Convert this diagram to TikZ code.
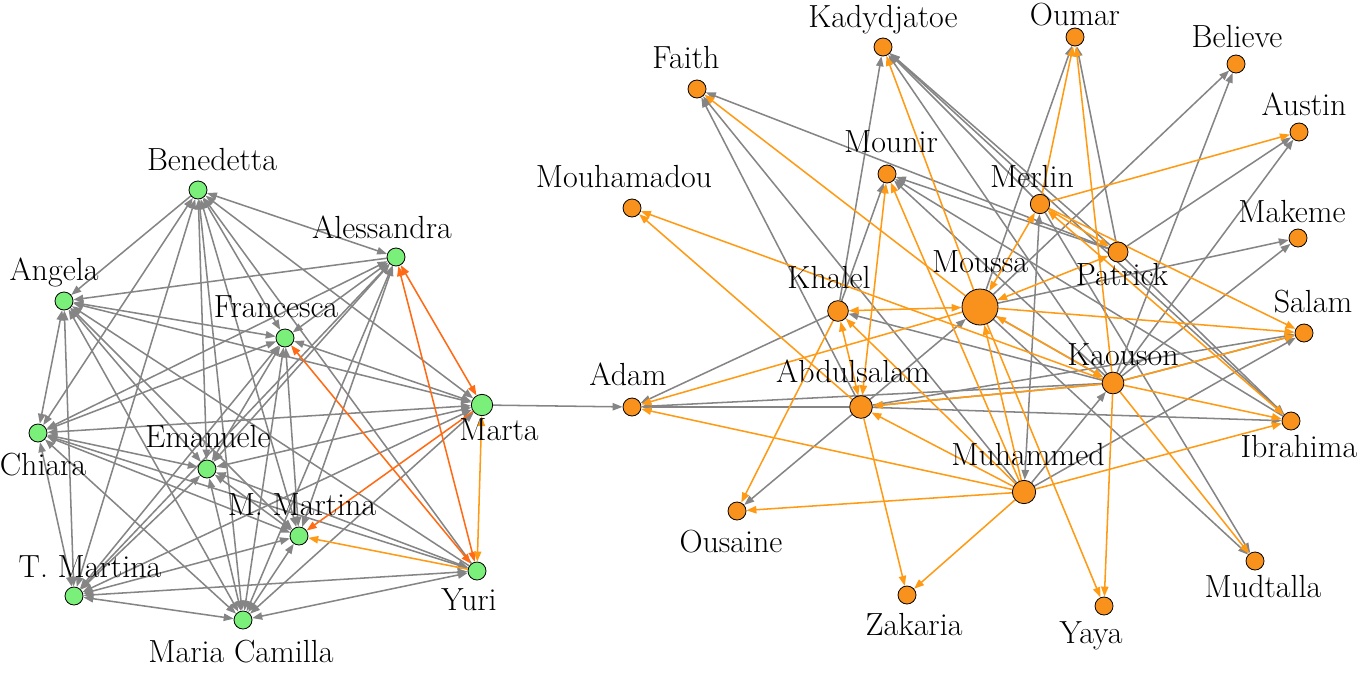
\documentclass[tikz,border=0pt]{standalone}
\usepackage{fontspec}
\setmainfont{Latin Modern Roman}
\usetikzlibrary{arrows.meta}
\pgfdeclarelayer{bg}
\pgfsetlayers{bg,main}
\definecolor{eg}{HTML}{858585}
\definecolor{eo}{HTML}{FF9A14}
\definecolor{er}{HTML}{FF6A14}
\definecolor{nfo}{HTML}{F8921C}
\definecolor{nfg}{HTML}{7AF07A}
\begin{document}
\begin{tikzpicture}[x=0.75pt,y=-0.75pt,
  >={Triangle[length=7.5pt,width=5.5pt]},
  gn/.style={circle,draw=black,line width=0.6pt,fill=nfg,minimum size=13.5pt,inner sep=0pt},
  on/.style={circle,draw=black,line width=0.6pt,fill=nfo,minimum size=13.5pt,inner sep=0pt},
  lab/.style={font=\fontsize{24}{26}\selectfont,anchor=base,inner sep=0pt},
  ge/.style={draw=eg,line width=1.15pt},
  oe/.style={draw=eo,line width=1.15pt},
  re/.style={draw=er,line width=1.15pt}]
\useasboundingbox (0,0) rectangle (1358,678);
% ---------- left cluster nodes
\node[gn] (Be) at (198,190) {};
\node[gn] (Al) at (396,257) {};
\node[gn] (An) at (64,301) {};
\node[gn] (Fr) at (285,338) {};
\node[gn,minimum size=16pt] (Mt) at (482,405) {};
\node[gn] (Ch) at (38,433) {};
\node[gn] (Em) at (207,469) {};
\node[gn] (MM) at (299,536) {};
\node[gn] (TM) at (74,596) {};
\node[gn] (MC) at (243,620) {};
\node[gn] (Yu) at (477,571) {};
% labels
\node[lab] (lBe) at (212,170) {Benedetta};
\node[lab] (lAl) at (382,238) {Alessandra};
\node[lab] (lAn) at (54,280) {Angela};
\node[lab] (lFr) at (276,317) {Francesca};
\node[lab] (lMt) at (499,440) {Marta};
\node[lab] (lCh) at (43,475) {Chiara};
\node[lab] (lEm) at (208,447) {Emanuele};
\node[lab] (lMM) at (302,515) {M. Martina};
\node[lab] (lTM) at (90,577) {T. Martina};
\node[lab] (lMC) at (241,662) {Maria Camilla};
\node[lab] (lYu) at (469,610) {Yuri};
% ---------- right cluster nodes
\node[on] (Fa) at (697,89) {};
\node[on] (Ka) at (883,47) {};
\node[on] (Ou) at (1075,37) {};
\node[on] (Bl) at (1236,64) {};
\node[on] (Au) at (1299,132) {};
\node[on] (Mo) at (887,174) {};
\node[on] (Mh) at (632,208) {};
\node[on,minimum size=14.5pt] (Me) at (1040,204) {};
\node[on] (Mk) at (1298,238) {};
\node[on,minimum size=15pt] (Pa) at (1118,252) {};
\node[on,minimum size=27pt] (Ms) at (980,307) {};
\node[on,minimum size=15.5pt] (Kh) at (838,311) {};
\node[on] (Sa) at (1304,333) {};
\node[on,minimum size=16.3pt] (Kn) at (1113,383) {};
\node[on] (Ad) at (632,407) {};
\node[on,minimum size=17pt] (Ab) at (861,407) {};
\node[on] (Ib) at (1291,421) {};
\node[on,minimum size=17.5pt] (Mu) at (1024,492) {};
\node[on] (Os) at (737,511) {};
\node[on] (Za) at (907,595) {};
\node[on] (Ya) at (1104,606) {};
\node[on] (Md) at (1255,561) {};
% labels
\node[lab] (lFa) at (686,68) {Faith};
\node[lab] (lKa) at (883,27) {Kadydjatoe};
\node[lab] (lOu) at (1075,25) {Oumar};
\node[lab] (lBl) at (1237,47) {Believe};
\node[lab] (lAu) at (1304,115) {Austin};
\node[lab] (lMo) at (891,152) {Mounir};
\node[lab] (lMh) at (624,187) {Mouhamadou};
\node[lab] (lMe) at (1032,187) {Merlin};
\node[lab] (lMk) at (1292,222) {Makeme};
\node[lab] (lPa) at (1122,285) {Patrick};
\node[lab] (lMs) at (980,272) {Moussa};
\node[lab] (lKh) at (829,288) {Khalel};
\node[lab] (lSa) at (1313,312) {Salam};
\node[lab] (lKn) at (1123,365) {Kaouson};
\node[lab] (lAd) at (628,385) {Adam};
\node[lab] (lAb) at (853,382) {Abdulsalam};
\node[lab] (lIb) at (1299,457) {Ibrahima};
\node[lab] (lMu) at (1028,465) {Muhammed};
\node[lab] (lOs) at (731,552) {Ousaine};
\node[lab] (lZa) at (914,635) {Zakaria};
\node[lab] (lYa) at (1091,643) {Yaya};
\node[lab] (lMd) at (1263,597) {Mudtalla};
\begin{pgfonlayer}{bg}
% ---------- left cluster edges (gray)
\draw[ge,<->] (Be) -- (Al);
\draw[ge,->] (Be) -- (An);
\draw[ge,<->] (Be) -- (Fr);
\draw[ge,<->] (Be) -- (Mt);
\draw[ge,<->] (Be) -- (Ch);
\draw[ge,<->] (Be) -- (Em);
\draw[ge,<->] (Be) -- (MM);
\draw[ge,<->] (Be) -- (TM);
\draw[ge,<->] (Be) -- (MC);
\draw[ge,<-] (Be) -- (Yu);
\draw[ge,->] (Al) -- (An);
\draw[ge,<->] (Al) -- (Fr);
\draw[ge,<->] (Al) -- (Ch);
\draw[ge,<->] (Al) -- (Em);
\draw[ge,<->] (Al) -- (MM);
\draw[ge,<->] (Al) -- (TM);
\draw[ge,<->] (Al) -- (MC);
\draw[ge,<->] (An) -- (Fr);
\draw[ge,<->] (An) -- (Mt);
\draw[ge,<->] (An) -- (Ch);
\draw[ge,<->] (An) -- (Em);
\draw[ge,<->] (An) -- (MM);
\draw[ge,<->] (An) -- (TM);
\draw[ge,<->] (An) -- (MC);
\draw[ge,<-] (An) -- (Yu);
\draw[ge,<->] (Fr) -- (Mt);
\draw[ge,<->] (Fr) -- (Ch);
\draw[ge,<->] (Fr) -- (Em);
\draw[ge,<->] (Fr) -- (MM);
\draw[ge,<->] (Fr) -- (TM);
\draw[ge,<->] (Fr) -- (MC);
\draw[ge,<->] (Mt) -- (Ch);
\draw[ge,<->] (Mt) -- (Em);
\draw[ge,<->] (Mt) -- (TM);
\draw[ge,<->] (Mt) -- (MC);
\draw[ge,<->] (Ch) -- (Em);
\draw[ge,<->] (Ch) -- (MM);
\draw[ge,<->] (Ch) -- (TM);
\draw[ge,<->] (Ch) -- (MC);
\draw[ge,<->] (Ch) -- (Yu);
\draw[ge,<->] (Em) -- (MM);
\draw[ge,<->] (Em) -- (TM);
\draw[ge,<->] (Em) -- (MC);
\draw[ge,<->] (Em) -- (Yu);
\draw[ge,<->] (MM) -- (TM);
\draw[ge,<->] (MM) -- (MC);
\draw[ge,<->] (TM) -- (MC);
\draw[ge,<->] (TM) -- (Yu);
\draw[ge,<->] (MC) -- (Yu);
% left cluster edges (orange)
\draw[re,<->] (Al) -- (Mt);
\draw[re,<->] (Al) -- (Yu);
\draw[re,<->] (Fr) -- (Yu);
\draw[re,->] (Mt) -- (MM);
\draw[oe,<->] (Mt) -- (Yu);
\draw[oe,->] (Yu) -- (MM);
% bridge
\draw[ge,->] (Mt) -- (Ad);
% ---------- right cluster edges (gray)
\draw[ge,->] (Pa) -- (Fa);
\draw[ge,->] (Mu) -- (Fa);
\draw[ge,->] (Ab) -- (Fa);
\draw[ge,->] (Kh) -- (Ka);
\draw[ge,->] (Pa) -- (Ka);
\draw[ge,->] (Kn) -- (Ka);
\draw[ge,->] (Ib) -- (Ka);
\draw[ge,->] (Me) -- (Ka);
\draw[ge,->] (Kh) -- (Mo);
\draw[ge,->] (Pa) -- (Mo);
\draw[ge,->] (Kn) -- (Mo);
\draw[ge,->] (Ib) -- (Mo);
\draw[ge,->] (Pa) -- (Ou);
\draw[ge,->] (Ms) -- (Ou);
\draw[ge,->] (Ms) -- (Bl);
\draw[ge,->] (Kn) -- (Bl);
\draw[ge,->] (Pa) -- (Au);
\draw[ge,->] (Kn) -- (Au);
\draw[ge,->] (Ms) -- (Mk);
\draw[ge,->] (Kn) -- (Mk);
\draw[ge,->] (Kn) -- (Sa);
\draw[ge,->] (Ab) -- (Sa);
\draw[ge,->] (Mu) -- (Sa);
\draw[ge,->] (Ab) -- (Ib);
\draw[ge,->] (Pa) -- (Ib);
\draw[ge,->] (Ms) -- (Md);
\draw[ge,->] (Me) -- (Md);
\draw[ge,->] (Kh) -- (Ad);
\draw[ge,->] (Ab) -- (Ad);
\draw[ge,->] (Kn) -- (Ad);
\draw[ge,->] (Ab) -- (Os);
\draw[ge,->] (Ab) -- (Ms);
\draw[ge,->] (Kn) -- (Kh);
\draw[ge,->] (Kn) -- (Ab);
\draw[ge,->] (Ms) -- (Kn);
\draw[ge,->] (Mu) -- (Kn);
\draw[ge,<->] (Me) -- (Mu);
% right cluster edges (orange)
\draw[oe,->] (Ms) -- (Fa);
\draw[oe,->] (Kn) -- (Mh);
\draw[oe,->] (Ab) -- (Mh);
\draw[oe,->] (Ms) -- (Ka);
\draw[oe,->] (Ms) -- (Ya);
\draw[oe,<->] (Ms) -- (Me);
\draw[oe,<->] (Ms) -- (Pa);
\draw[oe,->] (Ms) -- (Sa);
\draw[oe,<->] (Ms) -- (Kh);
\draw[oe,->] (Ms) -- (Ad);
\draw[oe,<->] (Kn) -- (Ms);
\draw[oe,->] (Me) -- (Ou);
\draw[oe,->] (Kn) -- (Ou);
\draw[oe,->] (Me) -- (Au);
\draw[oe,->] (Me) -- (Pa);
\draw[oe,->] (Me) -- (Sa);
\draw[oe,<->] (Me) -- (Ib);
\draw[oe,->] (Mu) -- (Ad);
\draw[oe,->] (Mu) -- (Os);
\draw[oe,->] (Mu) -- (Za);
\draw[oe,->] (Mu) -- (Ab);
\draw[oe,->] (Mu) -- (Ib);
\draw[oe,->] (Mu) -- (Kh);
\draw[oe,->] (Mu) -- (Mo);
\draw[oe,->] (Mu) -- (Ms);
\draw[oe,<->] (Ab) -- (Mo);
\draw[oe,<->] (Ab) -- (Kh);
\draw[oe,->] (Ab) -- (Za);
\draw[oe,->] (Kh) -- (Os);
\draw[oe,->] (Kn) -- (Sa);
\draw[oe,->] (Kn) -- (Ib);
\draw[oe,->] (Kn) -- (Md);
\draw[oe,->] (Kn) -- (Ya);
\draw[oe,->] (Kn) -- (Ab);
\end{pgfonlayer}
\end{tikzpicture}
\end{document}
